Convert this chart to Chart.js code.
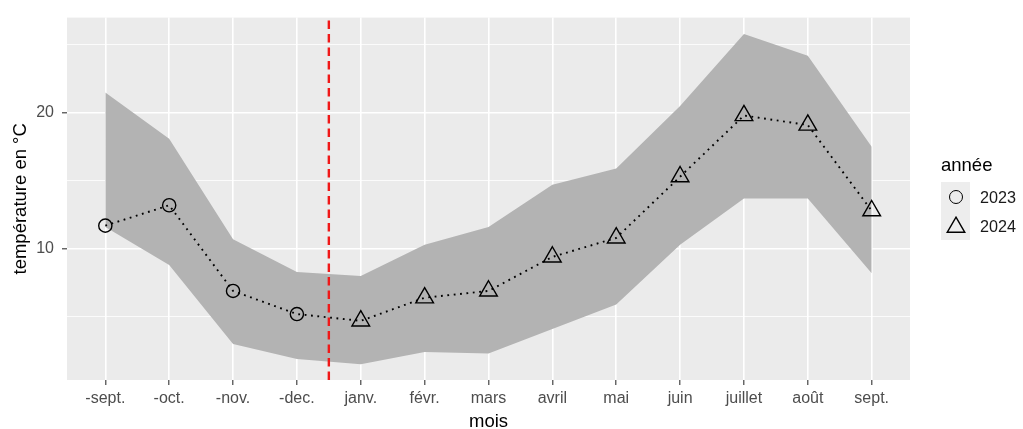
<!DOCTYPE html>
<html>
<head>
<meta charset="utf-8">
<script src="https://cdn.jsdelivr.net/npm/chart.js@4.4.1/dist/chart.umd.min.js"></script>
<style>
  body { margin: 0; background: #fff; }
  #wrap { position: relative; width: 1023px; height: 429px; font-family: 'Liberation Sans', Arial, sans-serif; }
  #legend-title { position: absolute; left: 941px; top: 156px; font-size: 18.5px; line-height: 18px; color: #000; }
  .key { position: absolute; left: 941px; width: 29px; height: 29px; background: #ededed; }
  .key-circle { position: absolute; left: 948.5px; top: 189.5px; width: 14px; height: 14px; box-sizing: border-box; border: 1.4px solid #000; border-radius: 50%; }
  .key-tri { position: absolute; left: 945.5px; top: 215.5px; }
  .key-label { position: absolute; left: 980px; font-size: 16.2px; line-height: 16px; color: #1a1a1a; }
</style>
</head>
<body>
<div id="wrap">
  <canvas id="tempChart" width="1023" height="429"></canvas>
  <div id="legend-title">année</div>
  <div class="key" style="top:182px"></div>
  <div class="key" style="top:211px"></div>
  <div class="key-circle"></div>
  <svg class="key-tri" width="20" height="18"><polygon points="10,1.2 18.8,16.3 1.2,16.3" fill="none" stroke="#000" stroke-width="1.4"/></svg>
  <div class="key-label" style="top:189px">2023</div>
  <div class="key-label" style="top:218px">2024</div>
</div>
<script>
// mois de septembre 2023 a septembre 2024
var months = ['-sept.', '-oct.', '-nov.', '-dec.', 'janv.', 'févr.', 'mars', 'avril', 'mai', 'juin', 'juillet', 'août', 'sept.'];
var yearOf = ['2023', '2023', '2023', '2023', '2024', '2024', '2024', '2024', '2024', '2024', '2024', '2024', '2024'];
var meanTemp = [11.7, 13.2, 6.9, 5.2, 4.7, 6.4, 6.9, 9.4, 10.8, 15.3, 19.8, 19.1, 12.8];
var maxTemp = [21.5, 18.1, 10.7, 8.3, 8.0, 10.3, 11.6, 14.7, 15.9, 20.5, 25.8, 24.2, 17.5];
var minTemp = [11.6, 8.8, 3.0, 1.9, 1.5, 2.4, 2.3, 4.1, 5.9, 10.3, 13.7, 13.7, 8.2];
var yTicks = [10, 20];
var yearBreak = 3.5;   // trait rouge entre dec. et janv.
var yMin = 0.35, yMax = 27.0;

var font = "'Liberation Sans', Arial, sans-serif";

function pts(values) {
    return values.map(function (v, i) { return {x: i, y: v}; });
}
function ptsOfYear(year) {
    return meanTemp.map(function (v, i) { return {x: i, y: v}; })
        .filter(function (p, i) { return yearOf[i] === year; });
}

var panelBg = {
    id: 'panelBg',
    beforeDraw: function (chart) {
        var a = chart.chartArea, ctx = chart.ctx;
        ctx.save();
        ctx.fillStyle = '#ebebeb';
        ctx.fillRect(a.left, a.top, a.right - a.left, a.bottom - a.top);
        ctx.restore();
    }
};

var ctx = document.getElementById('tempChart').getContext('2d');
var tempChart = new Chart(ctx, {
    type: 'line',
    data: {
        datasets: [{
            label: '2023',
            data: ptsOfYear('2023'),
            showLine: false,
            pointStyle: 'circle',
            pointRadius: 6.6,
            pointBorderWidth: 1.4,
            pointBorderColor: '#000',
            pointBackgroundColor: 'rgba(0,0,0,0)',
            order: 0,
        }, {
            label: '2024',
            data: ptsOfYear('2024'),
            showLine: false,
            pointStyle: 'triangle',
            pointRadius: 10.2,
            pointBorderWidth: 1.4,
            pointBorderColor: '#000',
            pointBackgroundColor: 'rgba(0,0,0,0)',
            order: 0,
        }, {
            label: 'moyenne',
            data: pts(meanTemp),
            borderColor: '#000',
            borderWidth: 1.9,
            borderDash: [1.8, 4.6],
            pointRadius: 0,
            fill: false,
            order: 1,
        }, {
            label: 'coupure',
            data: [{x: yearBreak, y: yMin}, {x: yearBreak, y: yMax}],
            borderColor: '#f01818',
            borderWidth: 2.4,
            borderDash: [8.5, 5],
            pointRadius: 0,
            fill: false,
            order: 2,
        }, {
            label: 'max',
            data: pts(maxTemp),
            borderWidth: 0,
            borderColor: 'rgba(0,0,0,0)',
            backgroundColor: '#b3b3b3',
            pointRadius: 0,
            fill: '+1',
            order: 3,
        }, {
            label: 'min',
            data: pts(minTemp),
            borderWidth: 0,
            borderColor: 'rgba(0,0,0,0)',
            pointRadius: 0,
            fill: false,
            order: 4,
        }],
    },
    options: {
        responsive: false,
        animation: false,
        layout: {padding: {left: 0, top: 12, right: 113, bottom: 0}},
        plugins: {
            legend: {display: false},
            tooltip: {enabled: false},
        },
        scales: {
            x: {
                type: 'linear',
                min: -0.6,
                max: months.length - 1 + 0.6,
                afterFit: function (scale) { scale.height = 49; },
                border: {display: false},
                grid: {color: '#ffffff', lineWidth: 1.6, tickLength: 5, tickColor: '#333333', tickWidth: 1.1},
                ticks: {
                    stepSize: 1,
                    includeBounds: false,
                    autoSkip: false,
                    maxRotation: 0,
                    padding: 4,
                    color: '#4d4d4d',
                    font: {family: font, size: 16},
                    callback: function (v) { return months[v] !== undefined ? months[v] : ''; },
                },
                title: {display: true, text: 'mois', color: '#000', font: {family: font, size: 18.5, lineHeight: 1}, padding: {top: 0, bottom: -2}},
            },
            y: {
                type: 'linear',
                min: yMin,
                max: yMax,
                afterFit: function (scale) { scale.width = 67; },
                border: {display: false},
                grid: {
                    color: '#ffffff',
                    lineWidth: function (c) { return yTicks.indexOf(c.tick.value) >= 0 ? 1.6 : 0.8; },
                    tickLength: 5,
                    tickColor: function (c) { return yTicks.indexOf(c.tick.value) >= 0 ? '#333333' : 'rgba(0,0,0,0)'; },
                    tickWidth: 1.1,
                },
                ticks: {
                    stepSize: 5,
                    includeBounds: false,
                    padding: 8,
                    color: '#4d4d4d',
                    font: {family: font, size: 16},
                    callback: function (v) { return yTicks.indexOf(v) >= 0 ? String(v) : ''; },
                },
                title: {display: true, text: 'température en °C', color: '#000', font: {family: font, size: 18.5, lineHeight: 1}, padding: {top: 12, bottom: 0}},
            },
        },
    },
    plugins: [panelBg],
});
</script>
</body>
</html>
